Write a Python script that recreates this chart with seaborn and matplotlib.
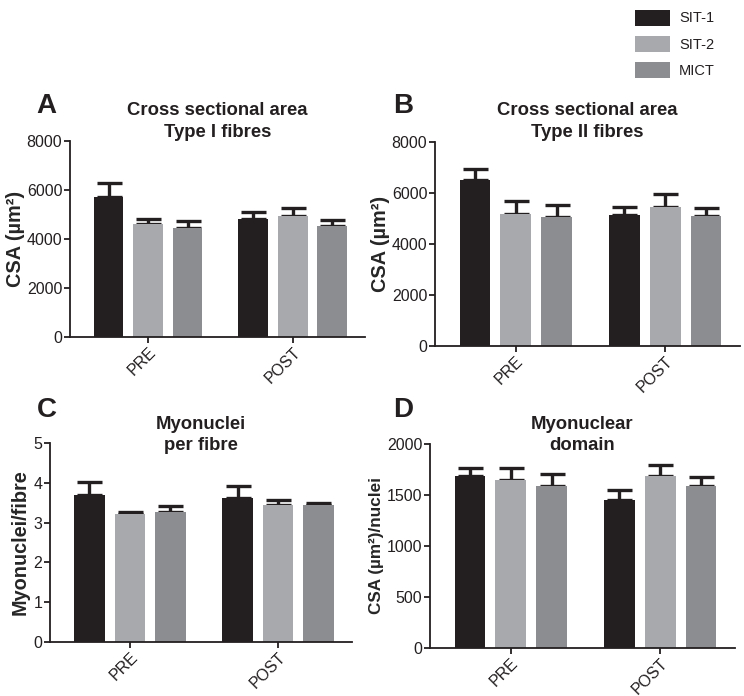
import numpy as np
import pandas as pd
import matplotlib
matplotlib.use('Agg')
import matplotlib.pyplot as plt
from matplotlib.patches import Patch
import seaborn as sns

# Dados (média e erro padrão)
grupos = ['SIT-1', 'SIT-2', 'MICT']
tempos = ['PRE', 'POST']
cores = ['#231f20', '#a7a9ac', '#8b8d90']

# A - CSA tipo I
a_sit1 = [5700, 4820]
a_sit2 = [4620, 4950]
a_mict = [4430, 4520]
a_sit1_err = [600, 290]
a_sit2_err = [210, 320]
a_mict_err = [320, 240]

# B - CSA tipo II
b_sit1 = [6500, 5140]
b_sit2 = [5180, 5460]
b_mict = [5060, 5100]
b_sit1_err = [430, 300]
b_sit2_err = [510, 500]
b_mict_err = [450, 300]

# C - mionúcleos por fibra
c_sit1 = [3.70, 3.63]
c_sit2 = [3.21, 3.45]
c_mict = [3.27, 3.43]
c_sit1_err = [0.32, 0.29]
c_sit2_err = [0.05, 0.13]
c_mict_err = [0.14, 0.07]

# D - domínio mionuclear
d_sit1 = [1682, 1452]
d_sit2 = [1643, 1682]
d_mict = [1584, 1593]
d_sit1_err = [80, 100]
d_sit2_err = [118, 115]
d_mict_err = [121, 86]

sns.set_style('ticks')
plt.rcParams['font.family'] = ['Liberation Sans', 'DejaVu Sans']
plt.rcParams['axes.linewidth'] = 1.3
plt.rcParams['xtick.major.width'] = 1.3
plt.rcParams['ytick.major.width'] = 1.3
plt.rcParams['xtick.major.size'] = 4
plt.rcParams['ytick.major.size'] = 4


def montar_df(sit1, sit2, mict, e1, e2, e3):
    linhas = []
    for g, vals, errs in zip(grupos, [sit1, sit2, mict], [e1, e2, e3]):
        for t, v, e in zip(tempos, vals, errs):
            linhas.append({'Tempo': t, 'Grupo': g, 'Valor': v, 'Erro': e})
    return pd.DataFrame(linhas)


def painel(ax, df, ylim, yticks, ylabel, ylsize, lpad, titulo, ytit):
    sns.barplot(data=df, x='Tempo', y='Valor', hue='Grupo', order=tempos,
                hue_order=grupos, palette=cores, width=0.82, gap=0.25,
                errorbar=None, legend=False, ax=ax, saturation=1,
                linewidth=0, zorder=2)
    # barras de erro (só para cima)
    for cont, g in zip(ax.containers, grupos):
        for bar, t in zip(cont, tempos):
            e = df[(df.Grupo == g) & (df.Tempo == t)].Erro.values[0]
            xc = bar.get_x() + bar.get_width() / 2
            ax.errorbar(xc, bar.get_height(), yerr=[[0], [e]], color='#231f20',
                        elinewidth=2.4, capsize=9, capthick=2.4, zorder=1.5)
    ax.set_ylim(*ylim)
    ax.set_yticks(yticks)
    ax.set_xlim(-0.54, 1.5)
    ax.set_xlabel('')
    ax.set_ylabel(ylabel, fontsize=ylsize, fontweight='bold', labelpad=lpad)
    ax.tick_params(axis='y', labelsize=11.5, colors='#231f20', pad=1.5)
    ax.tick_params(axis='x', labelsize=11.5, colors='#231f20', pad=1.5)
    plt.setp(ax.get_xticklabels(), rotation=45, ha='right', rotation_mode='anchor')
    ax.text(0.5, ytit, titulo, transform=ax.transAxes, ha='center', va='center',
            fontsize=13.3, fontweight='bold', linespacing=1.35, color='#231f20')
    for s in ['left', 'bottom']:
        ax.spines[s].set_color('#231f20')
        ax.spines[s].set_zorder(3)
    sns.despine(ax=ax)


fig = plt.figure(figsize=(7.44, 6.96), dpi=100)

axA = fig.add_axes([70/744, 1-337/696, 295/744, 196/696])
axB = fig.add_axes([435/744, 1-346/696, 305/744, 204/696])
axC = fig.add_axes([50/744, 1-642/696, 302/744, 199/696])
axD = fig.add_axes([430/744, 1-648/696, 305/744, 204/696])

painel(axA, montar_df(a_sit1, a_sit2, a_mict, a_sit1_err, a_sit2_err, a_mict_err),
       (0, 8000), [0, 2000, 4000, 6000, 8000], 'CSA (µm²)', 14.3, 1.5,
       'Cross sectional area\nType I fibres', 1.10)
painel(axB, montar_df(b_sit1, b_sit2, b_mict, b_sit1_err, b_sit2_err, b_mict_err),
       (0, 8000), [0, 2000, 4000, 6000, 8000], 'CSA (µm²)', 14.3, 1.5,
       'Cross sectional area\nType II fibres', 1.10)
painel(axC, montar_df(c_sit1, c_sit2, c_mict, c_sit1_err, c_sit2_err, c_mict_err),
       (0, 5), [0, 1, 2, 3, 4, 5], 'Myonuclei/fibre', 14.3, 3,
       'Myonuclei\nper fibre', 1.04)
painel(axD, montar_df(d_sit1, d_sit2, d_mict, d_sit1_err, d_sit2_err, d_mict_err),
       (0, 2000), [0, 500, 1000, 1500, 2000], 'CSA (µm²)/nuclei', 12.3, 2,
       'Myonuclear\ndomain', 1.044)

# letras dos painéis
for letra, x, y in [('A', 36, 113), ('B', 393, 113), ('C', 37, 417), ('D', 393, 417)]:
    fig.text(x/744, 1-y/696, letra, fontsize=20, fontweight='bold',
             va='baseline', ha='left', color='#231f20')

# legenda
handles = [Patch(facecolor=c, edgecolor='none', label=g) for c, g in zip(cores, grupos)]
fig.legend(handles=handles, loc='upper left', bbox_to_anchor=(622/744, 1.005),
           frameon=False, fontsize=10.5, handlelength=2.4, handleheight=1.3,
           labelspacing=0.7, handletextpad=0.6, labelcolor='#231f20')

fig.savefig('out.png', dpi=100)
